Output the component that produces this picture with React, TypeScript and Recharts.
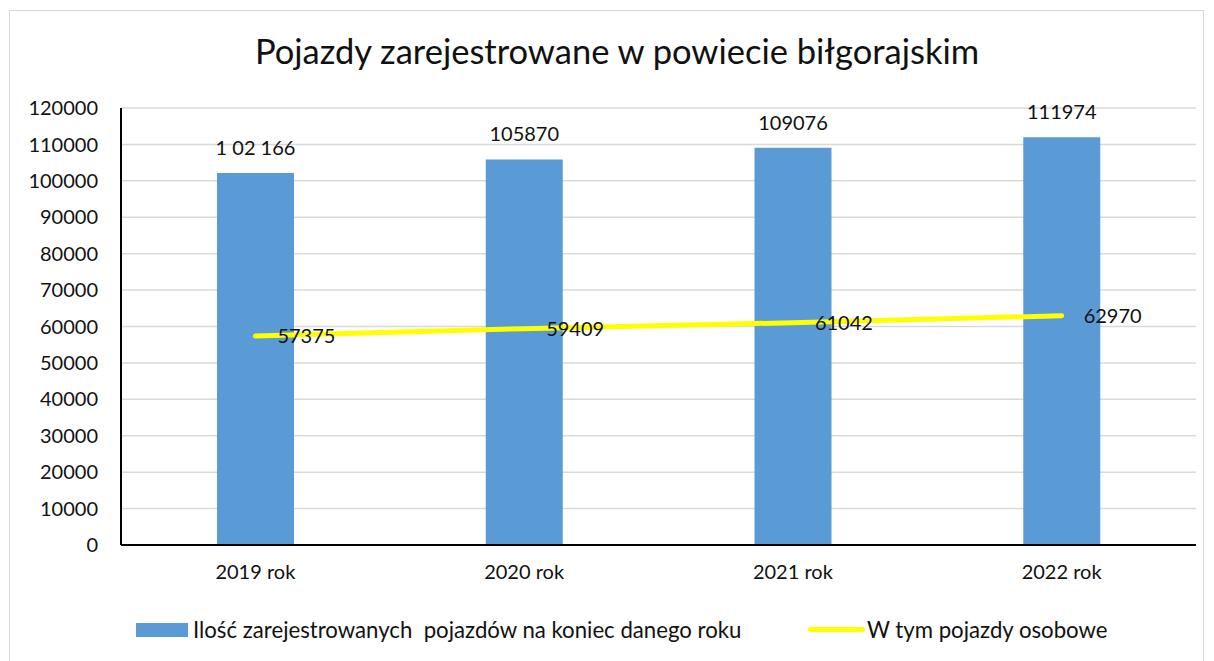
import { Bar, CartesianGrid, ComposedChart, LabelList, Line, XAxis, YAxis } from 'recharts'

const years = ['2019 rok', '2020 rok', '2021 rok', '2022 rok']
const totalVehicles = [102166, 105870, 109076, 111974]
const totalLabels = ['1 02 166', '105870', '109076', '111974']
const passengerCars = [57375, 59409, 61042, 62970]
const yTicks = [0, 10000, 20000, 30000, 40000, 50000, 60000, 70000, 80000, 90000, 100000, 110000, 120000]

const FONT = 'Lato, "Open Sans", sans-serif'
const TEXT = '#111'

const rows = years.map((year, i) => ({
  year,
  total: totalVehicles[i],
  totalLabel: totalLabels[i],
  cars: passengerCars[i],
}))

export default function App() {
  return (
    <div style={{ position: 'absolute', left: 0, top: 0, width: 1214, height: 661, background: '#fff', fontFamily: FONT }}>
      <div
        style={{
          position: 'absolute',
          left: 9,
          top: 10,
          width: 1195,
          height: 660,
          border: '1.5px solid #d9d9d9',
          boxSizing: 'border-box',
        }}
      />
      <div
        style={{
          position: 'absolute',
          left: 0,
          width: 1214,
          top: 30,
          textAlign: 'center',
          fontSize: 34.5,
          color: TEXT,
          paddingLeft: 20,
          boxSizing: 'border-box',
        }}
      >
        Pojazdy zarejestrowane w powiecie biłgorajskim
      </div>
      <div style={{ position: 'absolute', left: 0, top: 0 }}>
        <ComposedChart width={1214} height={661} data={rows} margin={{ top: 108, right: 18, bottom: 76, left: 0 }}>
          <CartesianGrid vertical={false} stroke="#d9d9d9" strokeWidth={1.5} />
          <XAxis
            dataKey="year"
            height={40}
            tickLine={false}
            tickSize={6}
            tickMargin={14}
            axisLine={{ stroke: '#000', strokeWidth: 2 }}
            tick={{ fontSize: 20, fill: TEXT, fontFamily: FONT }}
          />
          <XAxis xAxisId="top" dataKey="year" orientation="top" height={0} tick={false} tickLine={false} axisLine={{ stroke: '#000', strokeWidth: 2 }} />
          <YAxis
            width={121}
            domain={[0, 120000]}
            ticks={yTicks}
            interval={0}
            tickLine={false}
            tickSize={6}
            tickMargin={17}
            axisLine={{ stroke: '#000', strokeWidth: 2 }}
            tick={{ fontSize: 20, fill: TEXT, fontFamily: FONT }}
          />
          <YAxis yAxisId="r" orientation="right" width={0} domain={[0, 120000]} tick={false} tickLine={false} axisLine={{ stroke: '#000', strokeWidth: 2 }} />
          <Bar dataKey="total" fill="#5b9bd5" barSize={77} isAnimationActive={false}>
            <LabelList dataKey="totalLabel" position="top" offset={18} fill={TEXT} fontSize={20} fontFamily={FONT} />
          </Bar>
          <Line
            dataKey="cars"
            stroke="#ffff00"
            strokeWidth={5}
            strokeLinecap="round"
            dot={false}
            activeDot={false}
            isAnimationActive={false}
          >
            <LabelList dataKey="cars" position="right" offset={22} fill={TEXT} fontSize={20} fontFamily={FONT} />
          </Line>
        </ComposedChart>
      </div>
      <div style={{ position: 'absolute', left: 136, top: 616, display: 'flex', alignItems: 'center', fontSize: 22.2, color: TEXT, whiteSpace: 'pre' }}>
        <span style={{ display: 'inline-block', width: 52, height: 14, background: '#5b9bd5', marginRight: 5 }} />
        <span>Ilość zarejestrowanych  pojazdów na koniec danego roku</span>
      </div>
      <div style={{ position: 'absolute', left: 808, top: 616, display: 'flex', alignItems: 'center', fontSize: 22.2, color: TEXT }}>
        <span style={{ display: 'inline-block', width: 57, height: 5, borderRadius: 3, background: '#ffff00', marginRight: 2 }} />
        <span>W tym pojazdy osobowe</span>
      </div>
    </div>
  )
}
